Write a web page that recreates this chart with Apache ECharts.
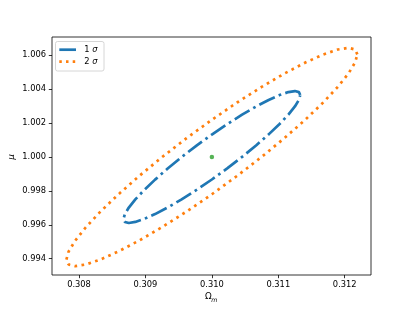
<!DOCTYPE html>
<html>
<head>
<meta charset="utf-8">
<script src="https://cdn.jsdelivr.net/npm/echarts@6/dist/echarts.min.js"></script>
<style>
html,body{margin:0;padding:0;background:#fff;}
#chart{width:413px;height:310px;}
</style>
</head>
<body>
<div id="chart"></div>
<script>
// ---- data ----
var center = [0.310, 1.000];

var sigma1 = [
  [0.311330, 1.003657], [0.311310, 1.003831], [0.311250, 1.003891], [0.311152, 1.003831],
  [0.311019, 1.003654], [0.310855, 1.003367], [0.310665, 1.002978], [0.310455, 1.002498],
  [0.310231, 1.001942], [0.310000, 1.001327], [0.309769, 1.000672], [0.309545, 0.999996],
  [0.309335, 0.999320], [0.309145, 0.998665], [0.308981, 0.998052], [0.308848, 0.997497],
  [0.308750, 0.997017], [0.308690, 0.996629], [0.308670, 0.996343], [0.308690, 0.996169],
  [0.308750, 0.996109], [0.308848, 0.996169], [0.308981, 0.996346], [0.309145, 0.996633],
  [0.309335, 0.997022], [0.309545, 0.997502], [0.309769, 0.998058], [0.310000, 0.998673],
  [0.310231, 0.999328], [0.310455, 1.000004], [0.310665, 1.000680], [0.310855, 1.001335],
  [0.311019, 1.001948], [0.311152, 1.002503], [0.311250, 1.002983], [0.311310, 1.003371],
  [0.311330, 1.003657]
];

var sigma2 = [
  [0.312190, 1.006054], [0.312157, 1.006343], [0.312058, 1.006440], [0.311897, 1.006342],
  [0.311678, 1.006049], [0.311408, 1.005574], [0.311095, 1.004930], [0.310749, 1.004135],
  [0.310380, 1.003215], [0.310000, 1.002197], [0.309620, 1.001113], [0.309251, 0.999995],
  [0.308905, 0.998876], [0.308592, 0.997792], [0.308322, 0.996775], [0.308103, 0.995856],
  [0.307942, 0.995062], [0.307843, 0.994419], [0.307810, 0.993946], [0.307843, 0.993657],
  [0.307942, 0.993560], [0.308103, 0.993658], [0.308322, 0.993951], [0.308592, 0.994426],
  [0.308905, 0.995070], [0.309251, 0.995865], [0.309620, 0.996785], [0.310000, 0.997803],
  [0.310380, 0.998887], [0.310749, 1.000005], [0.311095, 1.001124], [0.311408, 1.002208],
  [0.311678, 1.003225], [0.311897, 1.004144], [0.312058, 1.004938], [0.312157, 1.005581],
  [0.312190, 1.006054]
];

var xTicks = [0.308, 0.309, 0.310, 0.311, 0.312];
var yTicks = [0.994, 0.996, 0.998, 1.000, 1.002, 1.004, 1.006];
var legendNames = ['1 ', '2 '];

// ---- chart ----
var FONT = 'DejaVu Sans';
var FS = 8.3;
var chart = echarts.init(document.getElementById('chart'), null, {renderer: 'canvas'});

function axisCommon(ticks) {
  return {
    type: 'value',
    splitLine: {show: false},
    axisLine: {show: false},
    axisTick: {show: true, customValues: ticks, length: 3.2, lineStyle: {color: '#000', width: 0.8}},
    axisLabel: {
      customValues: ticks, color: '#000', fontSize: FS, fontFamily: FONT, margin: 6,
      formatter: function (v) { return v.toFixed(3); }
    }
  };
}

var xAxis = axisCommon(xTicks);
xAxis.min = 0.3075935; xAxis.max = 0.3123955;
var yAxis = axisCommon(yTicks);
yAxis.min = 0.993039; yAxis.max = 1.00708;

chart.setOption({
  animation: false,
  backgroundColor: '#fff',
  grid: {left: 52, top: 37, width: 319, height: 238, show: true, borderColor: '#000', borderWidth: 0.8, backgroundColor: 'transparent'},
  xAxis: xAxis,
  yAxis: yAxis,
  series: [
    {
      name: '1 σ', type: 'line', data: sigma1, showSymbol: false, symbol: 'none',
      lineStyle: {color: '#1f77b4', width: 2.7, type: [17.2, 4.3, 2.7, 4.3], cap: 'butt'},
      z: 2
    },
    {
      name: '2 σ', type: 'line', data: sigma2, showSymbol: false, symbol: 'none',
      lineStyle: {color: '#ff7f0e', width: 2.7, type: [2.7, 4.4], cap: 'butt'},
      z: 2
    },
    {
      type: 'scatter', data: [center], symbolSize: 4.5,
      itemStyle: {color: '#2ca02c'}, z: 3
    }
  ],
  graphic: [
    // axis titles
    {type: 'text', x: 11.5, y: 157, rotation: Math.PI / 2, z: 10,
     style: {text: 'μ', fontSize: FS + 0.5, fontStyle: 'italic', fontFamily: FONT, fill: '#000', align: 'center', verticalAlign: 'middle'}},
    {type: 'text', x: 205, y: 297, z: 10,
     style: {text: 'Ω', fontSize: FS + 0.5, fontFamily: FONT, fill: '#000', align: 'left', verticalAlign: 'middle'}},
    {type: 'text', x: 211.3, y: 300, z: 10,
     style: {text: 'm', fontSize: 6.2, fontStyle: 'italic', fontFamily: FONT, fill: '#000', align: 'left', verticalAlign: 'middle'}},
    // legend
    {type: 'rect', z: 10, shape: {x: 55.5, y: 41.5, width: 48.5, height: 29.5, r: 2},
     style: {fill: 'rgba(255,255,255,0.8)', stroke: '#cccccc', lineWidth: 0.8}},
    {type: 'line', z: 11, shape: {x1: 59.3, y1: 49.7, x2: 76, y2: 49.7},
     style: {stroke: '#1f77b4', lineWidth: 2.7}},
    {type: 'line', z: 11, shape: {x1: 59.3, y1: 61.7, x2: 76, y2: 61.7},
     style: {stroke: '#ff7f0e', lineWidth: 2.7, lineDash: [2.5, 4.2]}},
    {type: 'text', z: 11, x: 84.3, y: 49.7,
     style: {text: '{n|' + legendNames[0] + '}{g|σ}', fontFamily: FONT, fontSize: FS, fill: '#000', verticalAlign: 'middle',
             rich: {n: {fontSize: FS, fontFamily: FONT, fill: '#000'}, g: {fontSize: FS, fontFamily: FONT, fontStyle: 'italic', fill: '#000'}}}},
    {type: 'text', z: 11, x: 84.3, y: 61.7,
     style: {text: '{n|' + legendNames[1] + '}{g|σ}', fontFamily: FONT, fontSize: FS, fill: '#000', verticalAlign: 'middle',
             rich: {n: {fontSize: FS, fontFamily: FONT, fill: '#000'}, g: {fontSize: FS, fontFamily: FONT, fontStyle: 'italic', fill: '#000'}}}}
  ]
});
</script>
</body>
</html>
